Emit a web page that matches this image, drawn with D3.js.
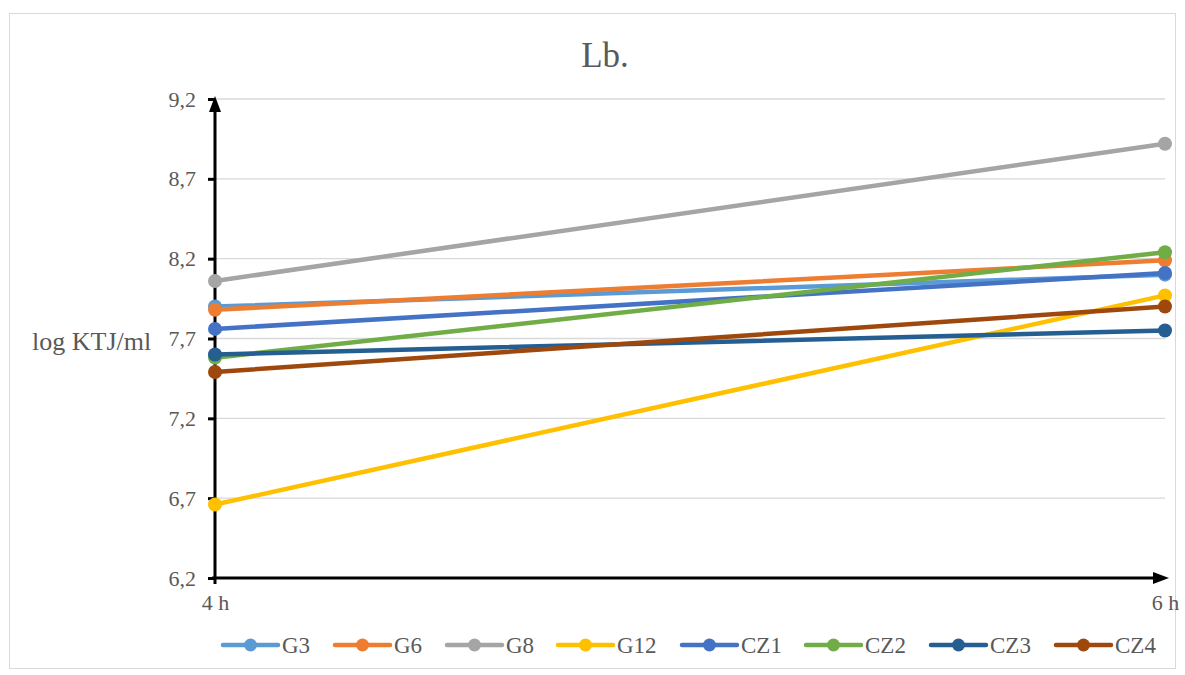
<!DOCTYPE html>
<html><head><meta charset="utf-8">
<script src="https://cdn.jsdelivr.net/npm/d3@7"></script>
<style>body{margin:0;background:#fff}svg{display:block}</style>
</head><body>
<script>
const categories = ["4 h", "6 h"];
const seriesNames = ["G3","G6","G8","G12","CZ1","CZ2","CZ3","CZ4"];
const G3 = [7.90, 8.10];
const G6 = [7.88, 8.19];
const G8 = [8.06, 8.92];
const G12 = [6.66, 7.97];
const CZ1 = [7.76, 8.11];
const CZ2 = [7.58, 8.24];
const CZ3 = [7.60, 7.75];
const CZ4 = [7.49, 7.90];
const yTicks = [6.2, 6.7, 7.2, 7.7, 8.2, 8.7, 9.2];
const colors = ["#5B9BD5","#ED7D31","#A5A5A5","#FFC000","#4472C4","#70AD47","#255E91","#9E480E"];
const seriesValues = [G3,G6,G8,G12,CZ1,CZ2,CZ3,CZ4];

const W=1185,H=675;
const svg=d3.select("body").append("svg").attr("width",W).attr("height",H);
svg.append("rect").attr("x",9.5).attr("y",13.5).attr("width",1166).attr("height",655)
  .attr("fill","#fff").attr("stroke","#d9d9d9").attr("stroke-width",1);

const x=d3.scalePoint().domain(categories).range([215,1165]);
const y=d3.scaleLinear().domain([6.2,9.2]).range([578,99]);
const font="'Liberation Serif','Times New Roman',serif";

// gridlines
svg.append("g").selectAll("line").data(yTicks.slice(1)).join("line")
  .attr("x1",215).attr("x2",1165).attr("y1",d=>y(d)).attr("y2",d=>y(d))
  .attr("stroke","#d9d9d9").attr("stroke-width",1.3);

// y axis
const yAxis=d3.axisLeft(y).tickValues(yTicks).tickSize(7).tickPadding(12).tickFormat(d=>d3.format(".1f")(d).replace(".",","));
const ga=svg.append("g").attr("transform","translate(215,0)").call(yAxis);
ga.select(".domain").remove();
ga.selectAll(".tick line").attr("stroke","#000").attr("stroke-width",3);
ga.selectAll(".tick text").attr("font-family",font).attr("font-size",22).attr("fill","#595959");

// x axis labels
const xa=d3.axisBottom(x).tickSize(0).tickPadding(16);
const gx=svg.append("g").attr("transform","translate(0,578)").call(xa);
gx.select(".domain").remove();
gx.selectAll(".tick text").attr("font-family",font).attr("font-size",22).attr("fill","#595959");

// axis lines with arrows
svg.append("line").attr("x1",215).attr("x2",215).attr("y1",584).attr("y2",106).attr("stroke","#000").attr("stroke-width",3);
svg.append("path").attr("d","M215,96 L209,112 L221,112 Z").attr("fill","#000");
svg.append("line").attr("x1",212).attr("x2",1158).attr("y1",578).attr("y2",578).attr("stroke","#000").attr("stroke-width",3);
svg.append("path").attr("d","M1169,578 L1153,572 L1153,584 Z").attr("fill","#000");

// series
const line=d3.line().x((d,i)=>x(categories[i])).y(d=>y(d));
seriesValues.forEach((vals,k)=>{
  const g=svg.append("g");
  g.append("path").attr("d",line(vals)).attr("fill","none").attr("stroke",colors[k]).attr("stroke-width",4.5).attr("stroke-linecap","round");
  g.selectAll("circle").data(vals).join("circle").attr("cx",(d,i)=>x(categories[i])).attr("cy",d=>y(d)).attr("r",7).attr("fill",colors[k]);
});

// title
svg.append("text").attr("x",605).attr("y",67).attr("text-anchor","middle").attr("font-family",font).attr("font-size",35).attr("fill","#595959").text("Lb.");
// y label
svg.append("text").attr("x",32).attr("y",350).attr("font-family",font).attr("font-size",26).attr("fill","#595959").text("log KTJ/ml");

// legend
const legX=[223,335,447,558,682,806,931,1056];
seriesNames.forEach((n,k)=>{
  const g=svg.append("g").attr("transform",`translate(${legX[k]},645)`);
  g.append("line").attr("x1",0).attr("x2",55).attr("y1",0).attr("y2",0).attr("stroke",colors[k]).attr("stroke-width",4.5).attr("stroke-linecap","round");
  g.append("circle").attr("cx",27.5).attr("cy",0).attr("r",6.5).attr("fill",colors[k]);
  g.append("text").attr("x",59).attr("y",8).attr("font-family",font).attr("font-size",23).attr("fill","#595959").text(n);
});
</script>
</body></html>
